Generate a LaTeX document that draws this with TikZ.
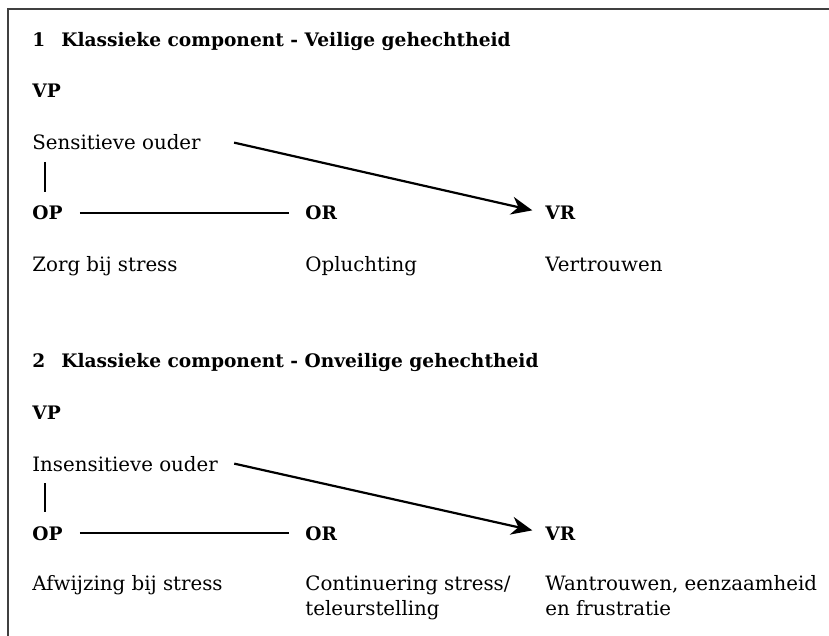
\documentclass[tikz,border=0pt]{standalone}
\usepackage{fontspec}
\setmainfont{DejaVu Serif}
\usetikzlibrary{arrows.meta}

\begin{document}
\begin{tikzpicture}
  [x=0.5pt,y=-0.5pt,
   txt/.style={anchor=base west,inner sep=0pt,align=left,
     font=\fontsize{9.9}{12.5}\selectfont},
   hdr/.style={txt,font=\fontsize{9.3}{12.5}\selectfont\bfseries},
   link/.style={line width=1.1pt},
   pijl/.style={line width=1.1pt,-{Stealth[length=10.5pt,width=9pt]}}]
  \useasboundingbox (0,0) rectangle (829,636);
  \draw[line width=0.8pt,black!75] (8,636) -- (8,9) -- (829,9);
  % deel 1: veilige gehechtheid
  \node[hdr] (titel1) at (32,47) {1\hspace{8pt}Klassieke component - Veilige gehechtheid};
  \node[hdr] (vp1) at (32,98) {VP};
  \node[txt] (ouder1) at (32,150) {Sensitieve ouder};
  \node[hdr] (op1) at (32,220) {OP};
  \node[hdr] (or1) at (305,220) {OR};
  \node[hdr] (vr1) at (545,220) {VR};
  \node[txt] (zorg1) at (32,271) {Zorg bij stress};
  \node[txt] (opl1) at (305,271) {Opluchting};
  \node[txt] (vertr1) at (545,271) {Vertrouwen};
  \draw[link] ([xshift=6.5pt,yshift=-6pt]ouder1.base west) -- ([xshift=6.5pt,yshift=7pt]op1.north west);
  \draw[link,shorten <=8.5pt,shorten >=8pt] (op1) -- (or1);
  \draw[pijl,shorten >=6.5pt] ([xshift=16.5pt]ouder1.east) -- (vr1.west);
  % deel 2: onveilige gehechtheid
  \node[hdr] (titel2) at (32,367) {2\hspace{8pt}Klassieke component - Onveilige gehechtheid};
  \node[hdr] (vp2) at (32,419) {VP};
  \node[txt] (ouder2) at (32,471) {Insensitieve ouder};
  \node[hdr] (op2) at (32,540) {OP};
  \node[hdr] (or2) at (305,540) {OR};
  \node[hdr] (vr2) at (545,540) {VR};
  \node[txt] (afw2) at (32,590) {Afwijzing bij stress};
  \node[txt] (cont2) at (305,615) {Continuering stress/\\teleurstelling};
  \node[txt] (wantr2) at (545,615) {Wantrouwen, eenzaamheid\\en frustratie};
  \draw[link] ([xshift=6.5pt,yshift=-6pt]ouder2.base west) -- ([xshift=6.5pt,yshift=7pt]op2.north west);
  \draw[link,shorten <=8.5pt,shorten >=8pt] (op2) -- (or2);
  \draw[pijl,shorten >=6.5pt] ([xshift=8pt]ouder2.east) -- (vr2.west);
\end{tikzpicture}
\end{document}
